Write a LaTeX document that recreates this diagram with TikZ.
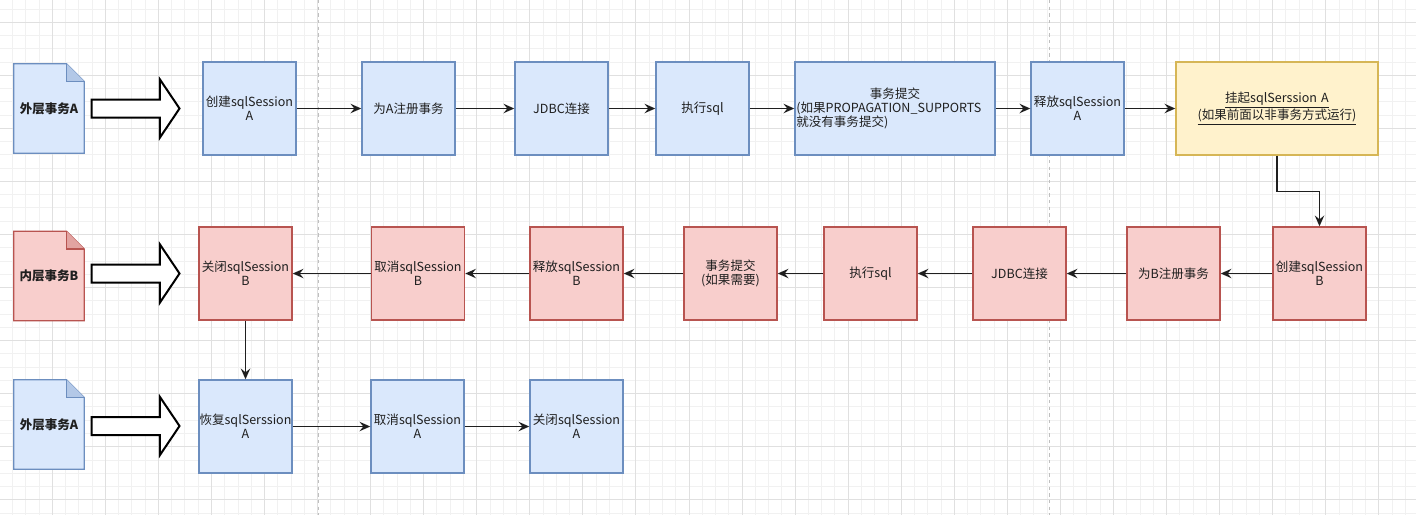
\documentclass[tikz,border=0pt]{standalone}
\usepackage{fontspec}
\setmainfont{Noto Sans CJK SC}
\usetikzlibrary{shapes.arrows,arrows.meta,backgrounds}
\definecolor{blufill}{HTML}{DAE8FC}
\definecolor{bluline}{HTML}{6C8EBF}
\definecolor{redfill}{HTML}{F8CECC}
\definecolor{redline}{HTML}{B85450}
\definecolor{yelfill}{HTML}{FFF2CC}
\definecolor{yelline}{HTML}{D6B656}
\definecolor{gridlo}{HTML}{F1F1F1}
\definecolor{gridhi}{HTML}{E0E0E0}
\definecolor{inkgray}{HTML}{1F1F1F}
\tikzset{
  box/.style={draw, line width=1.1pt, minimum width=69.75pt, minimum height=69.75pt,
    inner sep=1pt, text width=67.75pt, align=center,
    font=\fontsize{9.4}{10.8}\selectfont, text=inkgray},
  blubox/.style={box, fill=blufill, draw=bluline},
  redbox/.style={box, fill=redfill, draw=redline},
  yelbox/.style={box, fill=yelfill, draw=yelline},
  docnode/.style={minimum width=52.5pt, minimum height=66.75pt, inner sep=0pt,
    font=\bfseries\fontsize{9.4}{10.8}\selectfont, text=inkgray},
  bigarrow/.style={single arrow, draw=black, fill=white, line width=1.5pt,
    inner xsep=0pt, inner ysep=6pt, minimum height=66pt,
    single arrow head extend=15pt, single arrow tip angle=112},
  flow/.style={-{Stealth[length=8pt,width=7pt,inset=2.8pt]}, line width=1.2pt, draw=inkgray},
}
% page with a folded corner, drawn behind the named node
\newcommand\foldpage[3]{%
  \draw [draw=#3, fill=#2, line width=1pt] (#1.south west) -- (#1.north west)
    -- ([xshift=-13.3pt]#1.north east) -- ([yshift=-13.3pt]#1.north east)
    -- (#1.south east) -- cycle;
  \draw [draw=#3, fill=#3!35!#2, line width=1pt] ([xshift=-13.3pt]#1.north east)
    -- ([xshift=-13.3pt,yshift=-13.3pt]#1.north east) -- ([yshift=-13.3pt]#1.north east);
}
\begin{document}
\begin{tikzpicture}[x=0.75pt, y=-0.75pt]
\useasboundingbox (0,0) rectangle (1416,515);

% outer transaction A
\node [docnode] (outerA) at (49,108.5) {外层事务A};
\node [bigarrow] (pushA) at (132.5,108.5) {};
\node [blubox] (createA) at (249.5,108.5) {创建sqlSession\\A};
\node [blubox] (regA) at (408.5,108.5) {为A注册事务};
\node [blubox] (jdbcA) at (561.5,108.5) {JDBC连接};
\node [blubox] (execA) at (702.5,108.5) {执行sql};
\node [blubox, minimum width=150pt, align=left, text width=148pt] (commitA) at (895,108.5)
  {\makebox[\linewidth]{事务提交}\\(如果PROPAGATION\_SUPPORTS\\就没有事务提交)};
\node [blubox] (relA) at (1077.5,108.5) {释放sqlSession\\A};
\node [yelbox, minimum width=151.5pt, text width=149.5pt] (suspend) at (1277,108.5)
  {\underline{挂起sqlSerssion A}\\\underline{(如果前面以非事务方式运行)}};

% inner transaction B
\node [docnode] (innerB) at (49,276) {内层事务B};
\node [bigarrow] (pushB) at (132.5,273.5) {};
\node [redbox] (closeB) at (245.5,273.5) {关闭sqlSession\\B};
\node [redbox] (cancelB) at (418,273.5) {取消sqlSession\\B};
\node [redbox] (relB) at (576.5,273.5) {释放sqlSession\\B};
\node [redbox] (commitB) at (730.5,273.5) {事务提交\\(如果需要)};
\node [redbox] (execB) at (870.5,273.5) {执行sql};
\node [redbox] (jdbcB) at (1019.5,273.5) {JDBC连接};
\node [redbox] (regB) at (1173.5,273.5) {为B注册事务};
\node [redbox] (createB) at (1319.5,273.5) {创建sqlSession\\B};

% back to A
\node [docnode] (outerA2) at (49,424.5) {外层事务A};
\node [bigarrow] (pushA2) at (132.5,426) {};
\node [blubox] (resumeA) at (245.5,426.5) {\makebox[\linewidth]{恢复sqlSerssion}\\A};
\node [blubox] (cancelA) at (417.5,426.5) {取消sqlSession\\A};
\node [blubox] (closeA) at (576.5,426.5) {关闭sqlSession\\A};

\coordinate (bend) at (1300,191.5);

\begin{pgfonlayer}{background}
  \fill [white] (0,0) rectangle (1416,515);
  \foreach \i in {0,...,106}
    \draw [gridlo, line width=0.75pt] ({12.5+\i*13.265},0) -- ({12.5+\i*13.265},515);
  \foreach \j in {0,...,38}
    \draw [gridlo, line width=0.75pt] (0,{9+\j*13.265}) -- (1416,{9+\j*13.265});
  \foreach \i in {0,...,26}
    \draw [gridhi, line width=0.75pt] ({52.3+\i*53.06},0) -- ({52.3+\i*53.06},515);
  \foreach \j in {0,...,9}
    \draw [gridhi, line width=0.75pt] (0,{22.3+\j*53.06}) -- (1416,{22.3+\j*53.06});
  \draw [black!25, dash pattern=on 2.5pt off 2.5pt, line width=0.9pt] (318.3,0) -- (318.3,515);
  \draw [black!25, dash pattern=on 2.5pt off 2.5pt, line width=0.9pt] (1049.5,0) -- (1049.5,515);
  \foldpage{outerA}{blufill}{bluline}
  \foldpage{innerB}{redfill}{redline}
  \foldpage{outerA2}{blufill}{bluline}
\end{pgfonlayer}

\draw [flow] (createA) -- (regA);
\draw [flow] (regA) -- (jdbcA);
\draw [flow] (jdbcA) -- (execA);
\draw [flow] (execA) -- (commitA);
\draw [flow] (commitA) -- (relA);
\draw [flow] (relA) -- (suspend);
\draw [flow] (suspend.south) |- (bend) -| (createB.north);
\draw [flow] (createB) -- (regB);
\draw [flow] (regB) -- (jdbcB);
\draw [flow] (jdbcB) -- (execB);
\draw [flow] (execB) -- (commitB);
\draw [flow] (commitB) -- (relB);
\draw [flow] (relB) -- (cancelB);
\draw [flow] (cancelB) -- (closeB);
\draw [flow] (closeB) -- (resumeA);
\draw [flow] (resumeA) -- (cancelA);
\draw [flow] (cancelA) -- (closeA);
\end{tikzpicture}
\end{document}
